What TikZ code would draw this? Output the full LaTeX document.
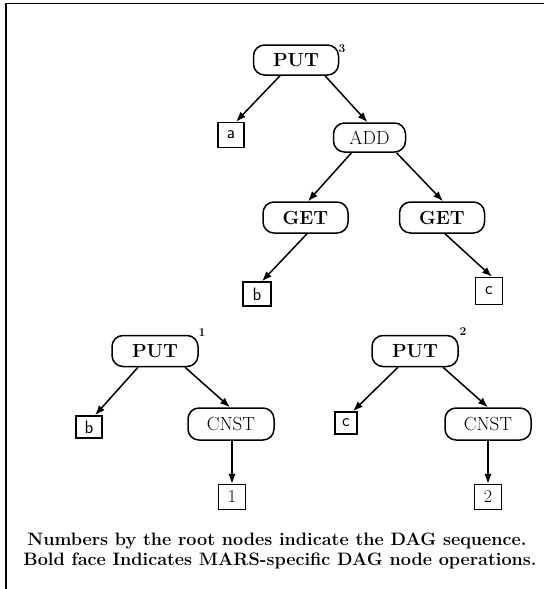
\documentclass[tikz,border=0pt]{standalone}
\usetikzlibrary{arrows.meta}
\begin{document}
\begin{tikzpicture}[x=1pt,y=-1pt,
  pill/.style={draw,line width=1.5pt,rounded corners=11pt,inner sep=0pt,minimum height=30pt,minimum width=85pt},
  opb/.style={pill,font=\fontsize{19}{21}\selectfont\bfseries},
  opr/.style={pill,font=\fontsize{19}{21}\selectfont},
  leaf/.style={draw,line width=1.5pt,inner sep=0pt,minimum width=26pt,minimum height=25pt,font=\fontsize{18}{20}\selectfont\sffamily},
  digit/.style={leaf,font=\fontsize{18}{20}\selectfont},
  seqno/.style={font=\fontsize{12}{12}\selectfont\bfseries,inner sep=0pt},
  arr/.style={line width=1.5pt,-{Latex[length=10pt,width=7.5pt]}},
  capt/.style={font=\fontsize{18}{20}\selectfont\bfseries,inner sep=0pt}
]
\useasboundingbox (0,0) rectangle (544,589);
\draw[line width=1.6pt] (6,589) -- (6,3.5) -- (544,3.5);

% top tree
\node[opb] (put3) at (296,60) {PUT};
\node[seqno] (s3) at (342,49) {3};
\node[leaf] (a) at (231,135) {a};
\node[opr,minimum width=72pt,minimum height=29pt] (add) at (369.5,137.5) {ADD};
\node[opb,minimum height=31pt] (getL) at (305.5,217.5) {GET};
\node[opb,minimum height=31pt] (getR) at (442,217.5) {GET};
\node[leaf,minimum width=28pt,minimum height=24pt] (b) at (257,294) {b};
\node[leaf,minimum width=27pt,minimum height=27pt] (c) at (489,291) {c};

% bottom left tree
\node[opb,minimum width=86pt,minimum height=31pt] (put1) at (155,351) {PUT};
\node[seqno] (s1) at (202,333) {1};
\node[leaf,minimum height=22pt] (b2) at (89,427) {b};
\node[opr,minimum width=86pt,minimum height=32pt] (cnst1) at (231,424) {CNST};
\node[digit,minimum width=27pt] (one) at (232,497) {1};

% bottom right tree
\node[opb,minimum width=86pt,minimum height=31pt] (put2) at (415,351) {PUT};
\node[seqno] (s2) at (463,332) {2};
\node[leaf,minimum width=22pt,minimum height=22pt] (c2) at (346,423) {c};
\node[opr,minimum width=86pt,minimum height=32pt] (cnst2) at (488,424) {CNST};
\node[digit,minimum width=27pt] (two) at (488,497) {2};

% captions
\node[capt] (cap1) at (277,541) {Numbers by the root nodes indicate the DAG sequence.};
\node[capt] (cap2) at (280,561) {Bold face Indicates MARS-specific DAG node operations.};

% connectors
\draw[arr] ([xshift=-16pt]put3.south) -- ([xshift=5pt]a.north);
\draw[arr] ([xshift=29pt]put3.south) -- ([xshift=-2pt]add.north);
\draw[arr] ([xshift=-18pt]add.south) -- ([xshift=2.5pt]getL.north);
\draw[arr] ([xshift=27pt]add.south) -- ([xshift=1pt]getR.north);
\draw[arr] ([xshift=1.5pt]getL.south) -- ([xshift=5pt]b.north);
\draw[arr] ([xshift=3pt]getR.south) -- ([xshift=3pt]c.north);
\draw[arr] ([xshift=-17pt]put1.south) -- ([xshift=6pt]b2.north);
\draw[arr] ([xshift=30pt]put1.south) -- ([xshift=-1pt]cnst1.north);
\draw[arr] ([xshift=-17pt]put2.south) -- ([xshift=7pt]c2.north);
\draw[arr] ([xshift=28pt]put2.south) -- (cnst2.north);
\draw[arr] (cnst1.south -| one.north) -- (one.north);
\draw[arr] (cnst2.south -| two.north) -- (two.north);
\end{tikzpicture}
\end{document}
